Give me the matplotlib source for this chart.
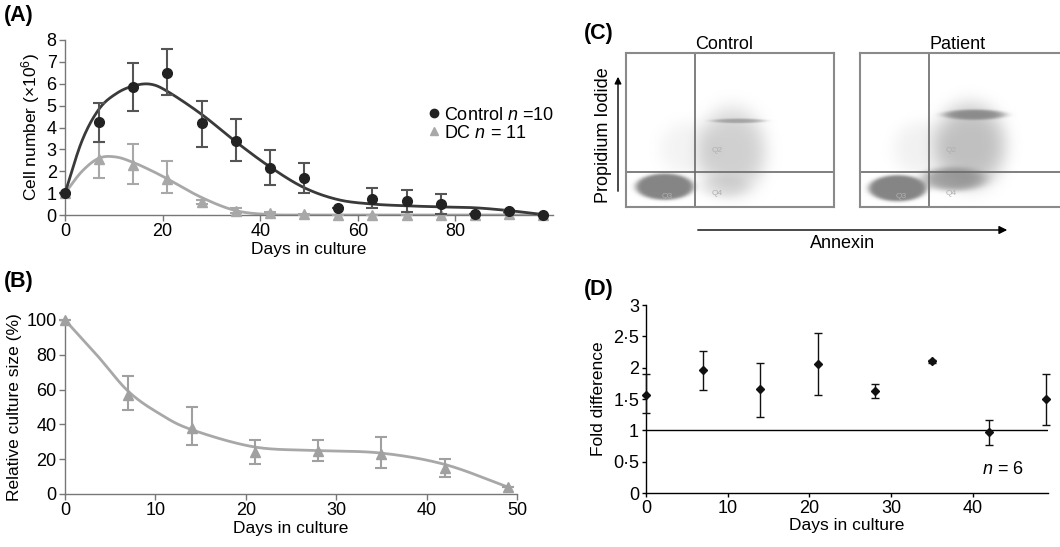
import numpy as np
import matplotlib
matplotlib.use('Agg')
import matplotlib.pyplot as plt
from matplotlib.colors import LinearSegmentedColormap

plt.rcParams['font.family'] = ['Liberation Sans', 'DejaVu Sans']
plt.rcParams['mathtext.fontset'] = 'custom'
plt.rcParams['mathtext.rm'] = 'Liberation Sans'
plt.rcParams['mathtext.it'] = 'Liberation Sans:italic'

# ---------------- data ----------------
# (A) cell number, x10^6
days_a = [0, 7, 14, 21, 28, 35, 42, 49, 56, 63, 70, 77, 84, 91, 98]
ctrl_mean = [1.0, 4.25, 5.85, 6.5, 4.2, 3.4, 2.15, 1.7, 0.3, 0.75, 0.65, 0.5, 0.05, 0.2, 0.0]
ctrl_hi = [1.0, 5.1, 6.95, 7.6, 5.2, 4.4, 2.95, 2.4, 0.3, 1.25, 1.15, 0.95, 0.05, 0.25, 0.0]
ctrl_lo = [1.0, 3.35, 4.75, 5.5, 3.1, 2.45, 1.35, 1.0, 0.3, 0.3, 0.15, 0.05, 0.05, 0.15, 0.0]
dc_mean = [1.0, 2.55, 2.3, 1.65, 0.6, 0.2, 0.1, 0.03, 0.0, 0.0, 0.0, 0.0, 0.0, 0.05, 0.0]
dc_hi = [1.0, 3.35, 3.25, 2.45, 0.7, 0.3, 0.15, 0.05, 0.0, 0.0, 0.0, 0.0, 0.0, 0.05, 0.0]
dc_lo = [1.0, 1.7, 1.4, 1.0, 0.5, 0.1, 0.05, 0.0, 0.0, 0.0, 0.0, 0.0, 0.0, 0.05, 0.0]
# fitted trend lines, read at these days
fit_days_a = [0, 3.5, 7, 10.5, 14, 17.5, 21, 28, 35, 42, 49, 56, 63, 70, 77, 84, 91, 98]
ctrl_fit = [1.0, 3.4, 4.85, 5.55, 5.9, 5.98, 5.65, 4.6, 3.35, 2.2, 1.25, 0.7, 0.5, 0.42, 0.37, 0.33, 0.2, 0.02]
dc_fit = [1.0, 2.0, 2.6, 2.65, 2.4, 2.05, 1.65, 0.8, 0.2, 0.02, 0.0, 0.0, 0.0, 0.0, 0.0, 0.0, 0.0, 0.0]

# (B) relative culture size, %
days_b = [0, 7, 14, 21, 28, 35, 42, 49]
rel_mean = [100, 57, 38, 24, 25, 23, 15, 4]
rel_hi = [100, 68, 50, 31, 31, 33, 20, 4]
rel_lo = [100, 48, 28, 17, 19, 15, 10, 4]
fit_days_b = [0, 3.5, 7, 10.5, 14, 21, 28, 35, 42, 49]
rel_fit = [100, 80, 59, 46, 37, 27, 25, 23.5, 17, 4]

# (D) fold difference
days_d = [0, 7, 14, 21, 28, 35, 42, 49]
fold_mean = [1.57, 1.97, 1.66, 2.06, 1.63, 2.1, 0.97, 1.5]
fold_hi = [1.9, 2.27, 2.08, 2.55, 1.74, 2.12, 1.16, 1.9]
fold_lo = [1.27, 1.65, 1.22, 1.56, 1.52, 2.08, 0.77, 1.08]
fold_ticks = [0, 0.5, 1, 1.5, 2, 2.5, 3]
fold_ticklabels = ['0', '0·5', '1', '1·5', '2', '2·5', '3']

# (C) flow cytometry populations (box fractions): centre, spread, weight
# order: live cells, early apoptotic band, sparse left, late apoptotic cloud, streak
ctrl_pops = {
    'cx': [0.185, 0.47, 0.30, 0.51, 0.54],
    'cy': [0.13, 0.13, 0.38, 0.36, 0.56],
    'sx': [0.09, 0.10, 0.12, 0.136, 0.10],
    'sy': [0.055, 0.06, 0.15, 0.23, 0.012],
    'w': [3.0, 0.04, 0.025, 0.12, 0.25],
}
pat_pops = {
    'cx': [0.18, 0.45, 0.30, 0.53, 0.55],
    'cy': [0.12, 0.18, 0.38, 0.40, 0.60],
    'sx': [0.09, 0.12, 0.12, 0.14, 0.11],
    'sy': [0.055, 0.06, 0.15, 0.22, 0.025],
    'w': [3.0, 0.35, 0.03, 0.18, 0.6],
}


def smooth(x, y, n=30):
    # Catmull-Rom through the read-off trend values
    x = np.asarray(x, float)
    y = np.asarray(y, float)
    px = np.concatenate([[2 * x[0] - x[1]], x, [2 * x[-1] - x[-2]]])
    py = np.concatenate([[2 * y[0] - y[1]], y, [2 * y[-1] - y[-2]]])
    xs, ys = [], []
    t = np.linspace(0, 1, n)
    for i in range(1, len(px) - 2):
        for p, out in ((px, xs), (py, ys)):
            p0, p1, p2, p3 = p[i - 1], p[i], p[i + 1], p[i + 2]
            out.append(0.5 * (2 * p1 + (-p0 + p2) * t + (2 * p0 - 5 * p1 + 4 * p2 - p3) * t ** 2
                              + (-p0 + 3 * p1 - 3 * p2 + p3) * t ** 3))
    return np.concatenate(xs), np.concatenate(ys)


def yerr(mean, hi, lo):
    m = np.array(mean)
    return [m - np.array(lo), np.array(hi) - m]


fig = plt.figure(figsize=(10.6, 5.47), dpi=100)
W, H = 1060., 547.


def px_axes(l, t, r, b):
    return fig.add_axes([l / W, 1 - b / H, (r - l) / W, (b - t) / H])


def style(ax, col):
    for s in ['top', 'right']:
        ax.spines[s].set_visible(False)
    for s in ['left', 'bottom']:
        ax.spines[s].set_color(col)
        ax.spines[s].set_linewidth(1.0)
    ax.tick_params(labelsize=13, color=col, length=4, width=1, pad=2)


LAB = 12.5

# ---------------- (A) ----------------
ax = px_axes(65, 40, 553, 215)
style(ax, '#777777')
fx, fy = smooth(fit_days_a, dc_fit)
ax.plot(fx, np.clip(fy, 0, None), color='#a8a8a8', lw=2, zorder=2)
fx, fy = smooth(fit_days_a, ctrl_fit)
ax.plot(fx, np.clip(fy, 0, None), color='#3a3a3a', lw=2, zorder=3)
ax.errorbar(days_a, dc_mean, yerr=yerr(dc_mean, dc_hi, dc_lo), fmt='^', color='#a8a8a8',
            ms=7, capsize=4, elinewidth=1.5, capthick=1.5, zorder=4, clip_on=False)
ax.errorbar(days_a, ctrl_mean, yerr=yerr(ctrl_mean, ctrl_hi, ctrl_lo), fmt='o', color='#222222',
            ecolor='#555555', ms=7, capsize=4, elinewidth=1.5, capthick=1.5, zorder=5, clip_on=False)
ax.set_xlim(0, 100)
ax.set_ylim(0, 8)
ax.set_xticks([0, 20, 40, 60, 80])
ax.set_yticks(range(9))
ax.set_xlabel('Days in culture', fontsize=LAB, labelpad=1)
ax.set_ylabel('Cell number (×10$^6$)', fontsize=LAB, labelpad=3)
h1 = plt.Line2D([], [], marker='o', ls='', color='#222222', ms=6)
h2 = plt.Line2D([], [], marker='^', ls='', color='#a8a8a8', ms=6)
ax.legend([h1, h2], ['Control $\\it{n}$ =10', 'DC $\\it{n}$ = 11'], frameon=False,
          loc='upper left', bbox_to_anchor=(0.72, 0.67), fontsize=13,
          handletextpad=0.05, handlelength=1.0, labelspacing=0.05, borderpad=0)

# ---------------- (B) ----------------
ax = px_axes(65, 320, 517, 494)
style(ax, '#777777')
fx, fy = smooth(fit_days_b, rel_fit)
ax.plot(fx, fy, color='#a8a8a8', lw=2, zorder=2)
ax.errorbar(days_b, rel_mean, yerr=yerr(rel_mean, rel_hi, rel_lo), fmt='^', color='#a0a0a0',
            ms=7, capsize=4, elinewidth=1.5, capthick=1.5, zorder=4, clip_on=False)
ax.set_xlim(0, 50)
ax.set_ylim(0, 100)
ax.set_xticks([0, 10, 20, 30, 40, 50])
ax.set_yticks([0, 20, 40, 60, 80, 100])
ax.set_xlabel('Days in culture', fontsize=LAB, labelpad=1)
ax.set_ylabel('Relative culture size (%)', fontsize=LAB, labelpad=3)

# ---------------- (C) ----------------
cmap = LinearSegmentedColormap.from_list('fc', ['#ffffff', '#858585'])
gx, gy = np.meshgrid(np.linspace(0, 1, 260), np.linspace(0, 1, 200))
for left, title, pops in [(626, 'Control', ctrl_pops), (860, 'Patient', pat_pops)]:
    ax = px_axes(left, 53, left + 208, 207)
    dens = np.zeros_like(gx)
    for cx, cy, sx, sy, w in zip(pops['cx'], pops['cy'], pops['sx'], pops['sy'], pops['w']):
        r2 = ((gx - cx) / sx) ** 2 + ((gy - cy) / sy) ** 2
        dens += w * np.exp(-0.5 * r2 ** 2)
    img = 1 - np.exp(-4 * dens)
    ax.imshow(img, origin='lower', extent=[0, 1, 0, 1], cmap=cmap, vmin=0, vmax=1,
              aspect='auto', interpolation='bilinear')
    ax.axvline(0.333, color='#6a6a6a', lw=1.2)
    ax.axhline(0.227, color='#6a6a6a', lw=1.2)
    ax.set_xlim(0, 1)
    ax.set_ylim(0, 1)
    ax.set_xticks([])
    ax.set_yticks([])
    for s in ax.spines.values():
        s.set_color('#8a8a8a')
        s.set_linewidth(1.5)
    ax.set_title(title, fontsize=13, pad=2, x=0.47)
    for q, qx, qy in [('Q3', 0.2, 0.07), ('Q4', 0.44, 0.09), ('Q2', 0.44, 0.37)]:
        ax.text(qx, qy, q, fontsize=6, color='#b0b0b0', ha='center', va='center')

fig.text(604 / W, 1 - 135 / H, 'Propidium Iodide', rotation=90, fontsize=13,
         ha='center', va='center')
fig.add_artist(plt.Annotation('', xy=(618 / W, 1 - 74 / H), xytext=(618 / W, 1 - 194 / H),
                              xycoords='figure fraction',
                              arrowprops=dict(arrowstyle='-|>', color='black', lw=1,
                                              mutation_scale=10)))
fig.add_artist(plt.Annotation('', xy=(1010 / W, 1 - 230 / H), xytext=(695 / W, 1 - 230 / H),
                              xycoords='figure fraction',
                              arrowprops=dict(arrowstyle='-|>', color='black', lw=1,
                                              mutation_scale=12)))
fig.text(843 / W, 1 - 243 / H, 'Annexin', fontsize=13, ha='center', va='center')

# ---------------- (D) ----------------
ax = px_axes(646, 305, 1048, 493)
style(ax, 'black')
ax.axhline(1, color='black', lw=1)
ax.errorbar(days_d, fold_mean, yerr=yerr(fold_mean, fold_hi, fold_lo), fmt='D', color='#111111',
            ms=4.5, capsize=3, elinewidth=1, capthick=1, zorder=4, clip_on=False)
ax.set_xlim(0, 49.2)
ax.set_ylim(0, 3)
ax.set_xticks([0, 10, 20, 30, 40])
ax.set_yticks(fold_ticks)
ax.set_yticklabels(fold_ticklabels)
ax.tick_params(length=3)
ax.set_xlabel('Days in culture', fontsize=LAB, labelpad=1)
ax.set_ylabel('Fold difference', fontsize=LAB, labelpad=5)
ax.text(0.94, 0.1, '$\\it{n}$ = 6', transform=ax.transAxes, fontsize=13, ha='right')

# panel letters
for lab, x, y in [('(A)', 4, 16), ('(B)', 4, 282), ('(C)', 584, 33), ('(D)', 584, 290)]:
    fig.text(x / W, 1 - y / H, lab, fontsize=15.5, fontweight='bold', va='center')

fig.savefig('out.png', dpi=100)
